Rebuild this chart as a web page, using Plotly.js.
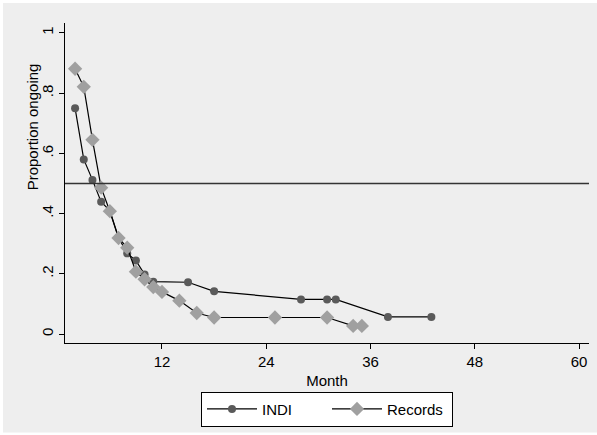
<!DOCTYPE html>
<html>
<head>
<meta charset="utf-8">
<script src="https://cdn.plot.ly/plotly-3.0.1.min.js"></script>
<style>html,body{margin:0;padding:0;background:#fff;}#chart{width:597px;height:435px;}</style>
</head>
<body>
<div id="chart"></div>
<script>
const indiMonths = [2,3,4,5,6,7,8,9,10,11,15,18,28,31,32,38,43];
const indiValues = [0.75,0.58,0.512,0.439,0.41,0.32,0.268,0.244,0.198,0.174,0.172,0.142,0.115,0.115,0.115,0.057,0.057];
const recMonths = [2,3,4,5,6,7,8,9,10,11,12,14,16,18,25,31,34,35];
const recValues = [0.881,0.821,0.645,0.486,0.408,0.319,0.287,0.207,0.182,0.156,0.140,0.111,0.070,0.055,0.055,0.055,0.027,0.027];
const xTicks = [12,24,36,48,60];
const yTicks = [0,0.2,0.4,0.6,0.8,1];
const yTickText = ["0",".2",".4",".6",".8","1"];
const refLevel = 0.5;

const font = {family: "Liberation Sans, Arial, sans-serif", size: 15, color: "#000"};

const traces = [
  {x: indiMonths, y: indiValues, name: "INDI", mode: "lines+markers", type: "scatter",
   line: {color: "#000", width: 1.2},
   marker: {symbol: "circle", size: 8, color: "#5a5a5a"}},
  {x: recMonths, y: recValues, name: "Records", mode: "lines+markers", type: "scatter",
   line: {color: "#000", width: 1.2},
   marker: {symbol: "diamond", size: 11, color: "#a0a0a0"}}
];

const layout = {
  width: 597, height: 435,
  margin: {l: 65, r: 8, t: 23, b: 90, pad: 0},
  paper_bgcolor: "#ffffff",
  plot_bgcolor: "#ffffff",
  font: font,
  showlegend: true,
  xaxis: {
    range: [0.84, 61.14], tickvals: xTicks, ticktext: xTicks.map(String),
    showgrid: false, zeroline: false, showline: true, linecolor: "#000", linewidth: 1,
    ticks: "outside", ticklen: 5, tickcolor: "#000", tickfont: font,
    title: {text: "Month", font: font, standoff: 6}
  },
  yaxis: {
    range: [-0.0297, 1.033], tickvals: yTicks, ticktext: yTickText, tickangle: -90,
    showgrid: false, zeroline: false, showline: true, linecolor: "#000", linewidth: 1,
    ticks: "outside", ticklen: 5, tickcolor: "#000", tickfont: font
  },
  legend: {
    orientation: "h", x: 0.5, xanchor: "center", y: -0.152, yanchor: "top",
    bgcolor: "#ffffff", bordercolor: "#000", borderwidth: 1, font: font,
    itemwidth: 50, entrywidth: 60, traceorder: "normal"
  },
  annotations: [
    {text: "Proportion ongoing", xref: "paper", yref: "paper",
     x: (32-65)/524, y: (345-128)/322, xanchor: "center", yanchor: "middle",
     textangle: -90, showarrow: false, font: font}
  ],
  shapes: [
    {type: "rect", xref: "paper", yref: "paper", layer: "below",
     x0: (3-65)/524, x1: (597-65)/524, y0: (345-435)/322, y1: (345-3)/322,
     fillcolor: "#eeeeee", line: {width: 0}},
    {type: "line", xref: "paper", yref: "y", x0: 0, x1: 1, y0: refLevel, y1: refLevel,
     line: {color: "#333", width: 1.5}}
  ]
};

Plotly.newPlot("chart", traces, layout, {displayModeBar: false, staticPlot: true});
</script>
</body>
</html>
